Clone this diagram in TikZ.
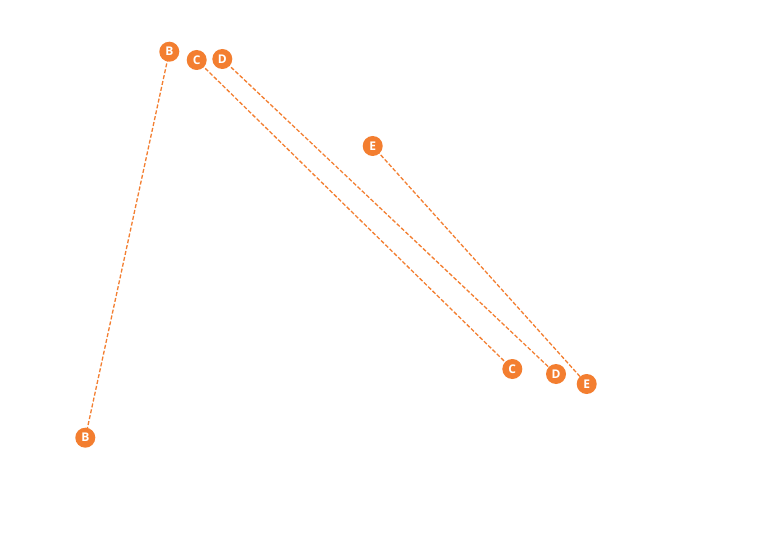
\documentclass[tikz,border=0pt]{standalone}
\usepackage{fontspec}
\setmainfont{Open Sans}
\usetikzlibrary{backgrounds}
\definecolor{dotorange}{HTML}{F37E30}
\begin{document}
\begin{tikzpicture}[x=1pt,y=-1pt,
  dot/.style={circle,fill=dotorange,inner sep=0pt,minimum size=20pt,text=white,font=\fontsize{12}{12}\selectfont\bfseries},
  link/.style={draw=dotorange,line width=1.3pt,dash pattern=on 4pt off 2pt}]
\useasboundingbox (0,0) rectangle (768,548);
\node[dot] (b1) at (169.3,51.7) {B};
\node[dot] (c1) at (196.7,60) {C};
\node[dot] (d1) at (222.3,59) {D};
\node[dot] (e1) at (372.7,146) {E};
\node[dot] (c2) at (512.3,369) {C};
\node[dot] (d2) at (556,374) {D};
\node[dot] (e2) at (586.7,384) {E};
\node[dot] (b2) at (85.3,437.7) {B};
\begin{pgfonlayer}{background}
\fill[white] (0,0) rectangle (768,548);
\path[link] (b1.center) -- (b2.center);
\path[link] (c1.center) -- (c2.center);
\path[link] (d1.center) -- (d2.center);
\path[link] (e1.center) -- (e2.center);
\end{pgfonlayer}
\end{tikzpicture}
\end{document}
